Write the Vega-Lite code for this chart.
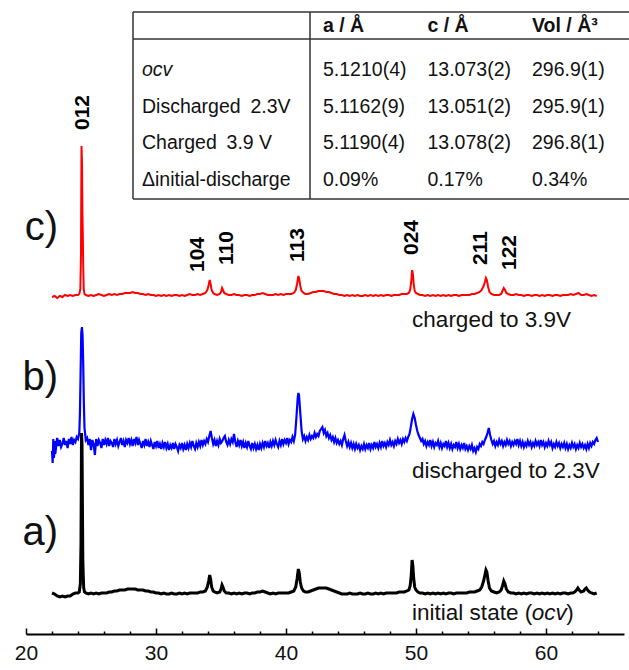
{
  "$schema": "https://vega.github.io/schema/vega-lite/v6.json",
  "width": 598,
  "height": 634,
  "autosize": "none",
  "padding": {"left": 26, "top": 0, "right": 5, "bottom": 36},
  "background": "white",
  "config": {
    "view": {"stroke": null},
    "font": "Liberation Sans",
    "text": {"font": "Liberation Sans", "color": "#111"}
  },
  "datasets": {
    "charged": [
      {"t":22.0,"i":337},{"t":22.2,"i":338},{"t":22.4,"i":336},{"t":22.6,"i":338},{"t":22.8,"i":337},{"t":23.0,"i":339},{"t":23.2,"i":338},{"t":23.4,"i":339},{"t":23.6,"i":338},{"t":23.8,"i":339},{"t":24.0,"i":339},{"t":24.1,"i":340},{"t":24.18,"i":345},{"t":24.23,"i":380},{"t":24.27,"i":488},{"t":24.31,"i":470},{"t":24.34,"i":420},{"t":24.37,"i":400},{"t":24.4,"i":370},{"t":24.44,"i":345},{"t":24.5,"i":340},{"t":24.6,"i":339},{"t":24.8,"i":338},{"t":25.0,"i":339},{"t":25.2,"i":338},{"t":25.4,"i":339},{"t":25.6,"i":340},{"t":25.8,"i":339},{"t":26.0,"i":338},{"t":26.2,"i":339},{"t":26.4,"i":340},{"t":26.6,"i":339},{"t":26.8,"i":340},{"t":27.0,"i":339},{"t":27.2,"i":340},{"t":27.4,"i":340},{"t":27.6,"i":341},{"t":27.8,"i":341},{"t":28.0,"i":341},{"t":28.2,"i":342},{"t":28.4,"i":341},{"t":28.6,"i":341},{"t":28.8,"i":340},{"t":29.0,"i":340},{"t":29.2,"i":339},{"t":29.4,"i":340},{"t":29.6,"i":339},{"t":29.8,"i":339},{"t":30.0,"i":338},{"t":30.2,"i":339},{"t":30.4,"i":338},{"t":30.6,"i":339},{"t":30.8,"i":338},{"t":31.0,"i":339},{"t":31.2,"i":338},{"t":31.4,"i":339},{"t":31.6,"i":339},{"t":31.8,"i":338},{"t":32.0,"i":339},{"t":32.2,"i":338},{"t":32.4,"i":339},{"t":32.6,"i":340},{"t":32.8,"i":339},{"t":33.0,"i":339},{"t":33.2,"i":340},{"t":33.4,"i":339},{"t":33.6,"i":340},{"t":33.8,"i":341},{"t":33.95,"i":344},{"t":34.05,"i":349},{"t":34.13,"i":354},{"t":34.2,"i":350},{"t":34.28,"i":344},{"t":34.4,"i":341},{"t":34.5,"i":340},{"t":34.7,"i":339},{"t":34.9,"i":340},{"t":35.0,"i":342},{"t":35.08,"i":346},{"t":35.15,"i":344},{"t":35.25,"i":341},{"t":35.4,"i":340},{"t":35.6,"i":339},{"t":35.8,"i":339},{"t":36.0,"i":340},{"t":36.2,"i":339},{"t":36.4,"i":339},{"t":36.6,"i":338},{"t":36.8,"i":339},{"t":37.0,"i":339},{"t":37.2,"i":338},{"t":37.4,"i":339},{"t":37.6,"i":339},{"t":37.8,"i":340},{"t":38.0,"i":340},{"t":38.2,"i":341},{"t":38.4,"i":340},{"t":38.6,"i":339},{"t":38.8,"i":339},{"t":39.0,"i":339},{"t":39.2,"i":340},{"t":39.4,"i":339},{"t":39.6,"i":340},{"t":39.8,"i":339},{"t":40.0,"i":340},{"t":40.2,"i":340},{"t":40.4,"i":340},{"t":40.6,"i":341},{"t":40.75,"i":344},{"t":40.85,"i":350},{"t":40.95,"i":358},{"t":41.02,"i":355},{"t":41.1,"i":348},{"t":41.2,"i":343},{"t":41.35,"i":341},{"t":41.5,"i":340},{"t":41.7,"i":340},{"t":41.9,"i":341},{"t":42.1,"i":342},{"t":42.3,"i":342},{"t":42.5,"i":343},{"t":42.7,"i":343},{"t":42.9,"i":343},{"t":43.1,"i":342},{"t":43.3,"i":342},{"t":43.5,"i":341},{"t":43.7,"i":340},{"t":43.9,"i":340},{"t":44.1,"i":339},{"t":44.3,"i":339},{"t":44.5,"i":338},{"t":44.7,"i":339},{"t":44.9,"i":338},{"t":45.1,"i":339},{"t":45.3,"i":338},{"t":45.5,"i":339},{"t":45.7,"i":338},{"t":45.9,"i":338},{"t":46.1,"i":339},{"t":46.3,"i":338},{"t":46.5,"i":339},{"t":46.7,"i":338},{"t":46.9,"i":339},{"t":47.1,"i":338},{"t":47.3,"i":339},{"t":47.5,"i":338},{"t":47.7,"i":339},{"t":47.9,"i":339},{"t":48.1,"i":338},{"t":48.3,"i":339},{"t":48.5,"i":339},{"t":48.7,"i":339},{"t":48.9,"i":340},{"t":49.1,"i":340},{"t":49.3,"i":340},{"t":49.45,"i":341},{"t":49.55,"i":344},{"t":49.63,"i":352},{"t":49.7,"i":364},{"t":49.76,"i":360},{"t":49.82,"i":350},{"t":49.9,"i":343},{"t":50.0,"i":341},{"t":50.15,"i":340},{"t":50.3,"i":339},{"t":50.5,"i":339},{"t":50.7,"i":338},{"t":50.9,"i":339},{"t":51.1,"i":338},{"t":51.3,"i":339},{"t":51.5,"i":338},{"t":51.7,"i":339},{"t":51.9,"i":338},{"t":52.1,"i":339},{"t":52.3,"i":338},{"t":52.5,"i":339},{"t":52.7,"i":338},{"t":52.9,"i":339},{"t":53.1,"i":339},{"t":53.3,"i":338},{"t":53.5,"i":339},{"t":53.7,"i":339},{"t":53.9,"i":339},{"t":54.1,"i":339},{"t":54.3,"i":340},{"t":54.5,"i":340},{"t":54.7,"i":341},{"t":54.9,"i":342},{"t":55.05,"i":344},{"t":55.2,"i":348},{"t":55.3,"i":352},{"t":55.38,"i":356},{"t":55.45,"i":354},{"t":55.55,"i":347},{"t":55.65,"i":342},{"t":55.8,"i":340},{"t":56.0,"i":339},{"t":56.2,"i":339},{"t":56.4,"i":339},{"t":56.55,"i":340},{"t":56.65,"i":343},{"t":56.75,"i":346},{"t":56.85,"i":344},{"t":56.95,"i":341},{"t":57.1,"i":340},{"t":57.3,"i":339},{"t":57.5,"i":339},{"t":57.7,"i":340},{"t":57.9,"i":339},{"t":58.1,"i":339},{"t":58.3,"i":338},{"t":58.5,"i":339},{"t":58.7,"i":339},{"t":58.9,"i":338},{"t":59.1,"i":339},{"t":59.3,"i":339},{"t":59.5,"i":338},{"t":59.7,"i":339},{"t":59.9,"i":338},{"t":60.1,"i":339},{"t":60.3,"i":339},{"t":60.5,"i":338},{"t":60.7,"i":339},{"t":60.9,"i":339},{"t":61.1,"i":338},{"t":61.3,"i":339},{"t":61.5,"i":339},{"t":61.7,"i":339},{"t":61.9,"i":340},{"t":62.1,"i":339},{"t":62.3,"i":340},{"t":62.5,"i":341},{"t":62.7,"i":339},{"t":62.9,"i":339},{"t":63.1,"i":340},{"t":63.3,"i":339},{"t":63.5,"i":338},{"t":63.7,"i":339},{"t":63.9,"i":338}
    ],
    "discharged": [
      {"t":22.0,"i":183},{"t":22.05,"i":171},{"t":22.1,"i":195},{"t":22.15,"i":176},{"t":22.2,"i":193},{"t":22.25,"i":180},{"t":22.3,"i":185},{"t":22.35,"i":192},{"t":22.4,"i":196},{"t":22.5,"i":188},{"t":22.6,"i":194},{"t":22.7,"i":187},{"t":22.8,"i":190},{"t":22.9,"i":196},{"t":23.0,"i":189},{"t":23.1,"i":193},{"t":23.2,"i":186},{"t":23.3,"i":195},{"t":23.4,"i":190},{"t":23.5,"i":197},{"t":23.6,"i":189},{"t":23.7,"i":194},{"t":23.8,"i":192},{"t":23.9,"i":197},{"t":24.0,"i":195},{"t":24.1,"i":201},{"t":24.15,"i":221},{"t":24.2,"i":261},{"t":24.25,"i":301},{"t":24.3,"i":307},{"t":24.35,"i":299},{"t":24.4,"i":271},{"t":24.45,"i":231},{"t":24.5,"i":206},{"t":24.6,"i":194},{"t":24.7,"i":196},{"t":24.8,"i":189},{"t":24.9,"i":195},{"t":25.0,"i":184},{"t":25.1,"i":194},{"t":25.2,"i":190},{"t":25.3,"i":179},{"t":25.4,"i":195},{"t":25.5,"i":188},{"t":25.6,"i":194},{"t":25.7,"i":191},{"t":25.8,"i":186},{"t":25.9,"i":195},{"t":26.0,"i":189},{"t":26.1,"i":194},{"t":26.2,"i":190},{"t":26.3,"i":196},{"t":26.4,"i":188},{"t":26.5,"i":193},{"t":26.6,"i":191},{"t":26.7,"i":187},{"t":26.8,"i":195},{"t":26.9,"i":190},{"t":27.0,"i":194},{"t":27.1,"i":188},{"t":27.2,"i":192},{"t":27.3,"i":196},{"t":27.4,"i":189},{"t":27.5,"i":193},{"t":27.6,"i":187},{"t":27.7,"i":194},{"t":27.8,"i":191},{"t":27.9,"i":196},{"t":28.0,"i":190},{"t":28.1,"i":194},{"t":28.2,"i":188},{"t":28.3,"i":195},{"t":28.4,"i":191},{"t":28.5,"i":197},{"t":28.6,"i":189},{"t":28.7,"i":194},{"t":28.8,"i":190},{"t":28.9,"i":186},{"t":29.0,"i":193},{"t":29.1,"i":189},{"t":29.2,"i":195},{"t":29.3,"i":188},{"t":29.4,"i":192},{"t":29.5,"i":187},{"t":29.6,"i":193},{"t":29.7,"i":189},{"t":29.8,"i":185},{"t":29.9,"i":192},{"t":30.0,"i":188},{"t":30.1,"i":193},{"t":30.2,"i":186},{"t":30.3,"i":190},{"t":30.4,"i":185},{"t":30.5,"i":191},{"t":30.6,"i":187},{"t":30.7,"i":192},{"t":30.8,"i":186},{"t":30.9,"i":190},{"t":31.0,"i":184},{"t":31.1,"i":189},{"t":31.2,"i":186},{"t":31.3,"i":191},{"t":31.4,"i":185},{"t":31.5,"i":190},{"t":31.6,"i":187},{"t":31.7,"i":183},{"t":31.8,"i":189},{"t":31.9,"i":186},{"t":32.0,"i":191},{"t":32.1,"i":185},{"t":32.2,"i":189},{"t":32.3,"i":184},{"t":32.4,"i":190},{"t":32.5,"i":186},{"t":32.6,"i":191},{"t":32.7,"i":187},{"t":32.8,"i":193},{"t":32.9,"i":188},{"t":33.0,"i":185},{"t":33.1,"i":191},{"t":33.2,"i":187},{"t":33.3,"i":192},{"t":33.4,"i":188},{"t":33.5,"i":194},{"t":33.6,"i":189},{"t":33.7,"i":193},{"t":33.8,"i":190},{"t":33.9,"i":195},{"t":34.0,"i":192},{"t":34.1,"i":198},{"t":34.2,"i":203},{"t":34.3,"i":196},{"t":34.4,"i":190},{"t":34.5,"i":194},{"t":34.6,"i":188},{"t":34.7,"i":193},{"t":34.8,"i":189},{"t":34.9,"i":195},{"t":35.0,"i":191},{"t":35.1,"i":193},{"t":35.2,"i":196},{"t":35.3,"i":198},{"t":35.4,"i":192},{"t":35.5,"i":189},{"t":35.6,"i":194},{"t":35.7,"i":190},{"t":35.8,"i":195},{"t":35.9,"i":192},{"t":36.0,"i":200},{"t":36.1,"i":192},{"t":36.2,"i":187},{"t":36.3,"i":193},{"t":36.4,"i":189},{"t":36.5,"i":194},{"t":36.6,"i":188},{"t":36.7,"i":192},{"t":36.8,"i":186},{"t":36.9,"i":191},{"t":37.0,"i":187},{"t":37.1,"i":193},{"t":37.2,"i":188},{"t":37.3,"i":185},{"t":37.4,"i":191},{"t":37.5,"i":186},{"t":37.6,"i":190},{"t":37.7,"i":185},{"t":37.8,"i":189},{"t":37.9,"i":184},{"t":38.0,"i":190},{"t":38.1,"i":186},{"t":38.2,"i":191},{"t":38.3,"i":187},{"t":38.4,"i":193},{"t":38.5,"i":188},{"t":38.6,"i":191},{"t":38.7,"i":186},{"t":38.8,"i":192},{"t":38.9,"i":188},{"t":39.0,"i":193},{"t":39.1,"i":189},{"t":39.2,"i":194},{"t":39.3,"i":190},{"t":39.4,"i":187},{"t":39.5,"i":193},{"t":39.6,"i":189},{"t":39.7,"i":195},{"t":39.8,"i":190},{"t":39.9,"i":194},{"t":40.0,"i":191},{"t":40.1,"i":196},{"t":40.2,"i":190},{"t":40.3,"i":194},{"t":40.4,"i":192},{"t":40.5,"i":197},{"t":40.6,"i":193},{"t":40.7,"i":199},{"t":40.8,"i":216},{"t":40.9,"i":236},{"t":40.95,"i":241},{"t":41.0,"i":239},{"t":41.1,"i":221},{"t":41.2,"i":203},{"t":41.3,"i":195},{"t":41.4,"i":198},{"t":41.5,"i":193},{"t":41.6,"i":197},{"t":41.7,"i":194},{"t":41.8,"i":199},{"t":41.9,"i":195},{"t":42.0,"i":198},{"t":42.1,"i":196},{"t":42.2,"i":201},{"t":42.3,"i":197},{"t":42.4,"i":200},{"t":42.5,"i":198},{"t":42.6,"i":203},{"t":42.7,"i":205},{"t":42.8,"i":207},{"t":42.9,"i":201},{"t":43.0,"i":204},{"t":43.1,"i":198},{"t":43.2,"i":201},{"t":43.3,"i":196},{"t":43.4,"i":199},{"t":43.5,"i":194},{"t":43.6,"i":197},{"t":43.7,"i":192},{"t":43.8,"i":196},{"t":43.9,"i":191},{"t":44.0,"i":194},{"t":44.1,"i":190},{"t":44.2,"i":193},{"t":44.3,"i":189},{"t":44.4,"i":195},{"t":44.5,"i":199},{"t":44.6,"i":193},{"t":44.7,"i":188},{"t":44.8,"i":192},{"t":44.9,"i":187},{"t":45.0,"i":191},{"t":45.1,"i":186},{"t":45.2,"i":190},{"t":45.3,"i":185},{"t":45.4,"i":190},{"t":45.5,"i":186},{"t":45.6,"i":189},{"t":45.7,"i":184},{"t":45.8,"i":188},{"t":45.9,"i":185},{"t":46.0,"i":190},{"t":46.1,"i":185},{"t":46.2,"i":189},{"t":46.3,"i":186},{"t":46.4,"i":191},{"t":46.5,"i":185},{"t":46.6,"i":189},{"t":46.7,"i":186},{"t":46.8,"i":192},{"t":46.9,"i":187},{"t":47.0,"i":190},{"t":47.1,"i":186},{"t":47.2,"i":191},{"t":47.3,"i":187},{"t":47.4,"i":193},{"t":47.5,"i":188},{"t":47.6,"i":191},{"t":47.7,"i":187},{"t":47.8,"i":192},{"t":47.9,"i":189},{"t":48.0,"i":194},{"t":48.1,"i":189},{"t":48.2,"i":192},{"t":48.3,"i":188},{"t":48.4,"i":193},{"t":48.5,"i":190},{"t":48.6,"i":195},{"t":48.7,"i":191},{"t":48.8,"i":194},{"t":48.9,"i":190},{"t":49.0,"i":195},{"t":49.1,"i":192},{"t":49.2,"i":196},{"t":49.3,"i":193},{"t":49.4,"i":197},{"t":49.5,"i":200},{"t":49.6,"i":207},{"t":49.7,"i":215},{"t":49.8,"i":220},{"t":49.9,"i":216},{"t":50.0,"i":209},{"t":50.1,"i":203},{"t":50.2,"i":199},{"t":50.3,"i":196},{"t":50.4,"i":193},{"t":50.5,"i":195},{"t":50.6,"i":190},{"t":50.7,"i":193},{"t":50.8,"i":188},{"t":50.9,"i":192},{"t":51.0,"i":189},{"t":51.1,"i":194},{"t":51.2,"i":188},{"t":51.3,"i":192},{"t":51.4,"i":187},{"t":51.5,"i":191},{"t":51.6,"i":189},{"t":51.7,"i":193},{"t":51.8,"i":187},{"t":51.9,"i":191},{"t":52.0,"i":186},{"t":52.1,"i":190},{"t":52.2,"i":188},{"t":52.3,"i":193},{"t":52.4,"i":187},{"t":52.5,"i":191},{"t":52.6,"i":186},{"t":52.7,"i":190},{"t":52.8,"i":185},{"t":52.9,"i":189},{"t":53.0,"i":187},{"t":53.1,"i":192},{"t":53.2,"i":186},{"t":53.3,"i":190},{"t":53.4,"i":185},{"t":53.5,"i":189},{"t":53.6,"i":186},{"t":53.7,"i":191},{"t":53.8,"i":185},{"t":53.9,"i":188},{"t":54.0,"i":184},{"t":54.1,"i":188},{"t":54.2,"i":185},{"t":54.3,"i":189},{"t":54.4,"i":183},{"t":54.5,"i":186},{"t":54.6,"i":182},{"t":54.7,"i":187},{"t":54.8,"i":185},{"t":54.9,"i":190},{"t":55.0,"i":188},{"t":55.1,"i":192},{"t":55.2,"i":190},{"t":55.3,"i":194},{"t":55.4,"i":197},{"t":55.5,"i":201},{"t":55.6,"i":206},{"t":55.7,"i":199},{"t":55.8,"i":194},{"t":55.9,"i":190},{"t":56.0,"i":193},{"t":56.1,"i":188},{"t":56.2,"i":192},{"t":56.3,"i":189},{"t":56.4,"i":194},{"t":56.5,"i":190},{"t":56.6,"i":193},{"t":56.7,"i":188},{"t":56.8,"i":192},{"t":56.9,"i":189},{"t":57.0,"i":194},{"t":57.1,"i":190},{"t":57.2,"i":193},{"t":57.3,"i":188},{"t":57.4,"i":192},{"t":57.5,"i":189},{"t":57.6,"i":193},{"t":57.7,"i":190},{"t":57.8,"i":195},{"t":57.9,"i":189},{"t":58.0,"i":193},{"t":58.1,"i":188},{"t":58.2,"i":192},{"t":58.3,"i":187},{"t":58.4,"i":191},{"t":58.5,"i":188},{"t":58.6,"i":193},{"t":58.7,"i":189},{"t":58.8,"i":192},{"t":58.9,"i":187},{"t":59.0,"i":191},{"t":59.1,"i":188},{"t":59.2,"i":193},{"t":59.3,"i":189},{"t":59.4,"i":192},{"t":59.5,"i":188},{"t":59.6,"i":194},{"t":59.7,"i":189},{"t":59.8,"i":192},{"t":59.9,"i":187},{"t":60.0,"i":191},{"t":60.1,"i":188},{"t":60.2,"i":193},{"t":60.3,"i":189},{"t":60.4,"i":192},{"t":60.5,"i":186},{"t":60.6,"i":190},{"t":60.7,"i":187},{"t":60.8,"i":192},{"t":60.9,"i":188},{"t":61.0,"i":191},{"t":61.1,"i":186},{"t":61.2,"i":190},{"t":61.3,"i":187},{"t":61.4,"i":191},{"t":61.5,"i":186},{"t":61.6,"i":190},{"t":61.7,"i":185},{"t":61.8,"i":189},{"t":61.9,"i":186},{"t":62.0,"i":191},{"t":62.1,"i":187},{"t":62.2,"i":190},{"t":62.3,"i":185},{"t":62.4,"i":189},{"t":62.5,"i":186},{"t":62.6,"i":191},{"t":62.7,"i":187},{"t":62.8,"i":190},{"t":62.9,"i":186},{"t":63.0,"i":189},{"t":63.1,"i":185},{"t":63.2,"i":190},{"t":63.3,"i":186},{"t":63.4,"i":191},{"t":63.5,"i":188},{"t":63.6,"i":192},{"t":63.7,"i":190},{"t":63.8,"i":194},{"t":63.9,"i":196},{"t":64.0,"i":192}
    ],
    "initial": [
      {"t":22.0,"i":41},{"t":22.2,"i":40},{"t":22.4,"i":38},{"t":22.6,"i":37},{"t":22.8,"i":38},{"t":23.0,"i":37},{"t":23.2,"i":38},{"t":23.4,"i":38},{"t":23.6,"i":40},{"t":23.8,"i":41},{"t":24.0,"i":41},{"t":24.1,"i":42},{"t":24.18,"i":50},{"t":24.23,"i":90},{"t":24.27,"i":201},{"t":24.31,"i":190},{"t":24.34,"i":130},{"t":24.37,"i":75},{"t":24.4,"i":60},{"t":24.44,"i":46},{"t":24.5,"i":42},{"t":24.6,"i":41},{"t":24.8,"i":40},{"t":25.0,"i":41},{"t":25.2,"i":40},{"t":25.4,"i":41},{"t":25.6,"i":40},{"t":25.8,"i":41},{"t":26.0,"i":41},{"t":26.2,"i":41},{"t":26.4,"i":42},{"t":26.6,"i":42},{"t":26.8,"i":43},{"t":27.0,"i":43},{"t":27.2,"i":44},{"t":27.4,"i":44},{"t":27.6,"i":44},{"t":27.8,"i":45},{"t":28.0,"i":45},{"t":28.2,"i":45},{"t":28.4,"i":45},{"t":28.6,"i":44},{"t":28.8,"i":44},{"t":29.0,"i":44},{"t":29.2,"i":43},{"t":29.4,"i":43},{"t":29.6,"i":42},{"t":29.8,"i":42},{"t":30.0,"i":41},{"t":30.2,"i":41},{"t":30.4,"i":40},{"t":30.6,"i":41},{"t":30.8,"i":40},{"t":31.0,"i":40},{"t":31.2,"i":41},{"t":31.4,"i":40},{"t":31.6,"i":40},{"t":31.8,"i":41},{"t":32.0,"i":40},{"t":32.2,"i":41},{"t":32.4,"i":40},{"t":32.6,"i":41},{"t":32.8,"i":41},{"t":33.0,"i":41},{"t":33.2,"i":41},{"t":33.4,"i":42},{"t":33.6,"i":42},{"t":33.8,"i":43},{"t":33.95,"i":47},{"t":34.05,"i":53},{"t":34.13,"i":59},{"t":34.2,"i":55},{"t":34.28,"i":47},{"t":34.4,"i":43},{"t":34.5,"i":42},{"t":34.7,"i":41},{"t":34.9,"i":42},{"t":35.0,"i":45},{"t":35.08,"i":49},{"t":35.15,"i":47},{"t":35.25,"i":43},{"t":35.4,"i":41},{"t":35.6,"i":41},{"t":35.8,"i":40},{"t":36.0,"i":41},{"t":36.2,"i":40},{"t":36.4,"i":41},{"t":36.6,"i":40},{"t":36.8,"i":41},{"t":37.0,"i":41},{"t":37.2,"i":40},{"t":37.4,"i":41},{"t":37.6,"i":41},{"t":37.8,"i":42},{"t":38.0,"i":42},{"t":38.2,"i":43},{"t":38.4,"i":42},{"t":38.6,"i":41},{"t":38.8,"i":40},{"t":39.0,"i":41},{"t":39.2,"i":40},{"t":39.4,"i":41},{"t":39.6,"i":41},{"t":39.8,"i":41},{"t":40.0,"i":41},{"t":40.2,"i":41},{"t":40.4,"i":42},{"t":40.6,"i":43},{"t":40.75,"i":47},{"t":40.85,"i":55},{"t":40.95,"i":65},{"t":41.02,"i":61},{"t":41.1,"i":52},{"t":41.2,"i":46},{"t":41.35,"i":43},{"t":41.5,"i":42},{"t":41.7,"i":42},{"t":41.9,"i":43},{"t":42.1,"i":44},{"t":42.3,"i":45},{"t":42.5,"i":46},{"t":42.7,"i":46},{"t":42.9,"i":46},{"t":43.1,"i":46},{"t":43.3,"i":45},{"t":43.5,"i":44},{"t":43.7,"i":43},{"t":43.9,"i":42},{"t":44.1,"i":41},{"t":44.3,"i":40},{"t":44.5,"i":40},{"t":44.7,"i":40},{"t":44.9,"i":41},{"t":45.1,"i":40},{"t":45.3,"i":40},{"t":45.5,"i":40},{"t":45.7,"i":41},{"t":45.9,"i":40},{"t":46.1,"i":40},{"t":46.3,"i":41},{"t":46.5,"i":40},{"t":46.7,"i":40},{"t":46.9,"i":41},{"t":47.1,"i":40},{"t":47.3,"i":41},{"t":47.5,"i":40},{"t":47.7,"i":41},{"t":47.9,"i":41},{"t":48.1,"i":41},{"t":48.3,"i":41},{"t":48.5,"i":41},{"t":48.7,"i":42},{"t":48.9,"i":42},{"t":49.1,"i":42},{"t":49.3,"i":43},{"t":49.45,"i":44},{"t":49.55,"i":48},{"t":49.63,"i":58},{"t":49.7,"i":74},{"t":49.76,"i":68},{"t":49.82,"i":56},{"t":49.9,"i":47},{"t":50.0,"i":44},{"t":50.15,"i":42},{"t":50.3,"i":41},{"t":50.5,"i":41},{"t":50.7,"i":40},{"t":50.9,"i":41},{"t":51.1,"i":40},{"t":51.3,"i":41},{"t":51.5,"i":40},{"t":51.7,"i":41},{"t":51.9,"i":40},{"t":52.1,"i":41},{"t":52.3,"i":40},{"t":52.5,"i":41},{"t":52.7,"i":41},{"t":52.9,"i":40},{"t":53.1,"i":41},{"t":53.3,"i":41},{"t":53.5,"i":41},{"t":53.7,"i":41},{"t":53.9,"i":41},{"t":54.1,"i":42},{"t":54.3,"i":42},{"t":54.5,"i":42},{"t":54.7,"i":43},{"t":54.9,"i":44},{"t":55.05,"i":47},{"t":55.2,"i":53},{"t":55.3,"i":59},{"t":55.38,"i":64},{"t":55.45,"i":62},{"t":55.55,"i":53},{"t":55.65,"i":46},{"t":55.8,"i":43},{"t":56.0,"i":42},{"t":56.2,"i":41},{"t":56.4,"i":42},{"t":56.55,"i":44},{"t":56.65,"i":48},{"t":56.75,"i":53},{"t":56.85,"i":50},{"t":56.95,"i":45},{"t":57.1,"i":42},{"t":57.3,"i":41},{"t":57.5,"i":41},{"t":57.7,"i":40},{"t":57.9,"i":41},{"t":58.1,"i":40},{"t":58.3,"i":41},{"t":58.5,"i":40},{"t":58.7,"i":41},{"t":58.9,"i":41},{"t":59.1,"i":40},{"t":59.3,"i":41},{"t":59.5,"i":40},{"t":59.7,"i":41},{"t":59.9,"i":40},{"t":60.1,"i":41},{"t":60.3,"i":40},{"t":60.5,"i":41},{"t":60.7,"i":40},{"t":60.9,"i":41},{"t":61.1,"i":40},{"t":61.3,"i":41},{"t":61.5,"i":41},{"t":61.7,"i":40},{"t":61.9,"i":41},{"t":62.05,"i":41},{"t":62.2,"i":42},{"t":62.35,"i":44},{"t":62.45,"i":46},{"t":62.55,"i":44},{"t":62.7,"i":42},{"t":62.9,"i":43},{"t":63.0,"i":45},{"t":63.1,"i":46},{"t":63.2,"i":44},{"t":63.35,"i":42},{"t":63.5,"i":41},{"t":63.7,"i":40},{"t":63.9,"i":41}
    ],
    "reflections": [
      {"t":24.35,"i":504,"hkl":"012"},
      {"t":33.2,"i":362,"hkl":"104"},
      {"t":35.43,"i":369,"hkl":"110"},
      {"t":40.95,"i":372,"hkl":"113"},
      {"t":49.7,"i":379,"hkl":"024"},
      {"t":55.0,"i":369,"hkl":"211"},
      {"t":57.22,"i":364,"hkl":"122"}
    ],
    "panels": [
      {"t":22.46,"i":394,"tag":"c)"},
      {"t":22.46,"i":244,"tag":"b)"},
      {"t":22.46,"i":89,"tag":"a)"}
    ],
    "captions": [
      {"t":49.7,"i":307,"text":"charged to 3.9V"},
      {"t":49.7,"i":156,"text":"discharged to 2.3V"},
      {"t":49.7,"i":14,"text":"initial state ("},
      {"t":58.9,"i":14,"text":"ocv"},
      {"t":61.55,"i":14,"text":")"}
    ],
    "cells": [
      {"row":"head","col":"a","text":"a / Å"},
      {"row":"head","col":"c","text":"c / Å"},
      {"row":"head","col":"vol","text":"Vol / Å³"},
      {"row":"ocv","col":"label","text":"ocv"},
      {"row":"ocv","col":"a","text":"5.1210(4)"},
      {"row":"ocv","col":"c","text":"13.073(2)"},
      {"row":"ocv","col":"vol","text":"296.9(1)"},
      {"row":"dis","col":"label","text":"Discharged\u20022.3V"},
      {"row":"dis","col":"a","text":"5.1162(9)"},
      {"row":"dis","col":"c","text":"13.051(2)"},
      {"row":"dis","col":"vol","text":"295.9(1)"},
      {"row":"chg","col":"label","text":"Charged\u20023.9 V"},
      {"row":"chg","col":"a","text":"5.1190(4)"},
      {"row":"chg","col":"c","text":"13.078(2)"},
      {"row":"chg","col":"vol","text":"296.8(1)"},
      {"row":"delta","col":"label","text":"Δinitial-discharge"},
      {"row":"delta","col":"a","text":"0.09%"},
      {"row":"delta","col":"c","text":"0.17%"},
      {"row":"delta","col":"vol","text":"0.34%"}
    ]
  },
  "layer": [
    {
      "encoding": {
        "x": {
          "field": "t",
          "type": "quantitative",
          "scale": {"domain": [20, 66], "nice": false, "zero": false},
          "axis": {
            "title": null,
            "grid": false,
            "values": [20,22,24,26,28,30,32,34,36,38,40,42,44,46,48,50,52,54,56,58,60,62,64],
            "labelExpr": "datum.value % 10 === 0 ? datum.label : ''",
            "domainColor": "#000",
            "domainWidth": 2,
            "tickColor": "#000",
            "tickWidth": 1.5,
            "tickSize": {"condition": {"test": "datum.value % 10 === 0", "value": -6}, "value": -3},
            "labelFont": "Liberation Sans",
            "labelFontSize": 21,
            "labelColor": "#111",
            "labelPadding": 14,
            "labelFlush": false,
            "labelOverlap": false,
            "labelBound": false
          }
        },
        "y": {
          "field": "i",
          "type": "quantitative",
          "scale": {"domain": [0, 634], "nice": false, "zero": false},
          "axis": null
        }
      },
      "layer": [
        {"data": {"name": "charged"}, "mark": {"type": "line", "color": "#ff0000", "strokeWidth": 2}},
        {"data": {"name": "discharged"}, "mark": {"type": "line", "color": "#0000ff", "strokeWidth": 2.2}},
        {"data": {"name": "initial"}, "mark": {"type": "line", "color": "#000000", "strokeWidth": 3}},
        {
          "data": {"name": "reflections"},
          "mark": {"type": "text", "angle": 270, "align": "left", "baseline": "middle", "fontSize": 21, "fontWeight": "bold", "color": "#000"},
          "encoding": {"text": {"field": "hkl"}}
        },
        {
          "data": {"name": "panels"},
          "mark": {"type": "text", "align": "right", "baseline": "alphabetic", "fontSize": 40, "color": "#111"},
          "encoding": {"text": {"field": "tag"}}
        },
        {
          "data": {"name": "captions"},
          "transform": [{"filter": "datum.text !== 'ocv'"}],
          "mark": {"type": "text", "align": "left", "baseline": "alphabetic", "fontSize": 22.5, "color": "#111"},
          "encoding": {"text": {"field": "text"}}
        },
        {
          "data": {"name": "captions"},
          "transform": [{"filter": "datum.text === 'ocv'"}],
          "mark": {"type": "text", "align": "left", "baseline": "alphabetic", "fontSize": 22.5, "fontStyle": "italic", "color": "#111"},
          "encoding": {"text": {"field": "text"}}
        }
      ]
    },
    {
      "encoding": {
        "x": {
          "field": "col",
          "type": "ordinal",
          "scale": {"type": "point", "domain": ["label", "a", "c", "vol"], "range": [192.5, 506], "padding": 0},
          "axis": null
        },
        "y": {
          "field": "row",
          "type": "ordinal",
          "scale": {"type": "point", "domain": ["head", "ocv", "dis", "chg", "delta"], "range": [33.33, 180], "padding": 0},
          "axis": null
        }
      },
      "layer": [
        {
          "data": {"values": [{}]},
          "mark": {"type": "rule", "color": "#333", "strokeWidth": 1.5, "xOffset": -85.5, "x2Offset": 120, "yOffset": -21.33},
          "encoding": {"x": {"datum": "label"}, "x2": {"datum": "vol"}, "y": {"datum": "head"}}
        },
        {
          "data": {"values": [{}]},
          "mark": {"type": "rule", "color": "#333", "strokeWidth": 1.5, "xOffset": -85.5, "x2Offset": 120, "yOffset": 5.67},
          "encoding": {"x": {"datum": "label"}, "x2": {"datum": "vol"}, "y": {"datum": "head"}}
        },
        {
          "data": {"values": [{}]},
          "mark": {"type": "rule", "color": "#333", "strokeWidth": 1.5, "xOffset": -85.5, "x2Offset": 120, "yOffset": 19},
          "encoding": {"x": {"datum": "label"}, "x2": {"datum": "vol"}, "y": {"datum": "delta"}}
        },
        {
          "data": {"values": [{}]},
          "mark": {"type": "rule", "color": "#333", "strokeWidth": 1.5, "xOffset": -85.5, "yOffset": -21.33, "y2Offset": 19},
          "encoding": {"x": {"datum": "label"}, "y": {"datum": "head"}, "y2": {"datum": "delta"}}
        },
        {
          "data": {"values": [{}]},
          "mark": {"type": "rule", "color": "#333", "strokeWidth": 1.5, "xOffset": -13, "yOffset": -21.33, "y2Offset": 19},
          "encoding": {"x": {"datum": "a"}, "y": {"datum": "head"}, "y2": {"datum": "delta"}}
        },
        {
          "data": {"name": "cells"},
          "transform": [{"filter": "datum.row === 'head'"}],
          "mark": {"type": "text", "align": "left", "baseline": "middle", "fontSize": 19.5, "fontWeight": "bold", "dy": -7, "color": "#111"},
          "encoding": {"text": {"field": "text"}}
        },
        {
          "data": {"name": "cells"},
          "transform": [{"filter": "datum.row !== 'head' && datum.col !== 'label'"}],
          "mark": {"type": "text", "align": "left", "baseline": "middle", "fontSize": 19.5, "color": "#111"},
          "encoding": {"text": {"field": "text"}}
        },
        {
          "data": {"name": "cells"},
          "transform": [{"filter": "datum.col === 'label' && datum.row !== 'ocv'"}],
          "mark": {"type": "text", "align": "left", "baseline": "middle", "fontSize": 19.5, "dx": -76.5, "color": "#111"},
          "encoding": {"text": {"field": "text"}}
        },
        {
          "data": {"name": "cells"},
          "transform": [{"filter": "datum.col === 'label' && datum.row === 'ocv'"}],
          "mark": {"type": "text", "align": "left", "baseline": "middle", "fontSize": 19.5, "fontStyle": "italic", "dx": -76.5, "color": "#111"},
          "encoding": {"text": {"field": "text"}}
        }
      ]
    }
  ],
  "resolve": {"scale": {"x": "independent", "y": "independent"}}
}
